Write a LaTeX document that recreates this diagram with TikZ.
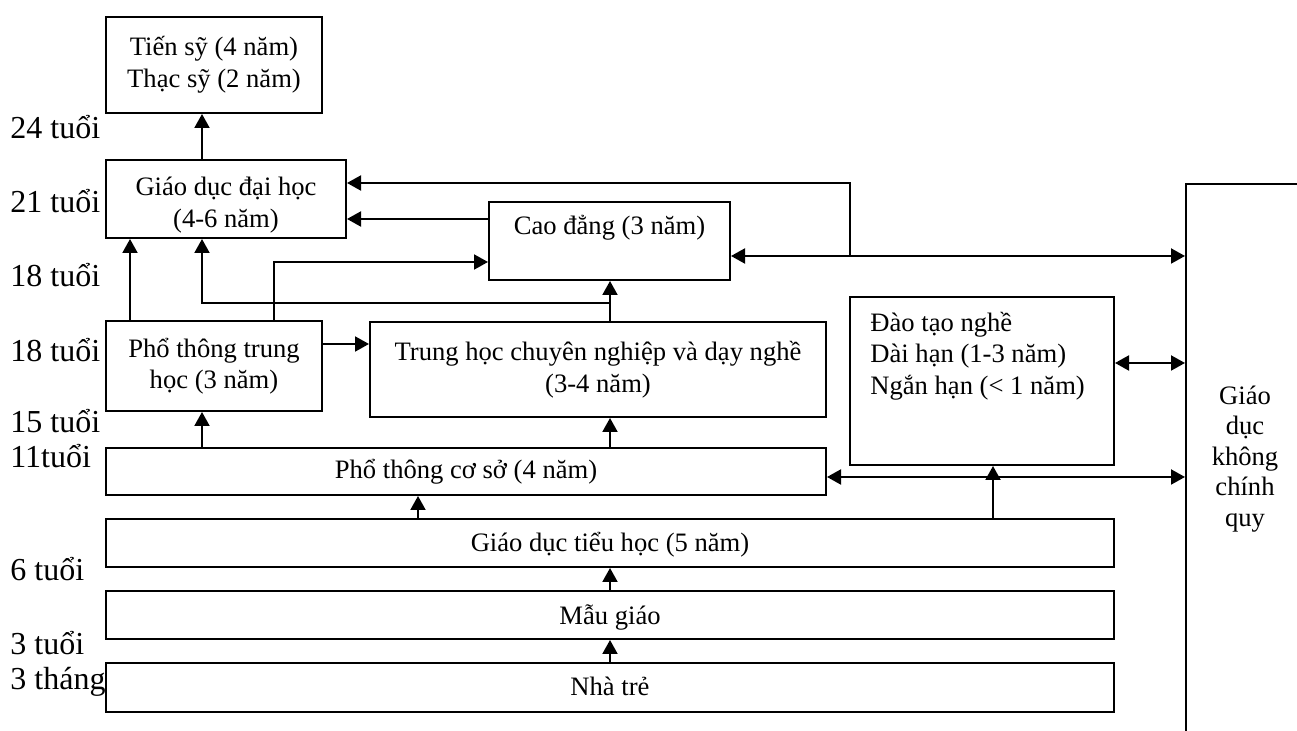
\documentclass[tikz,border=0pt]{standalone}
\usepackage{fontspec}
\setmainfont{Liberation Serif}
\usetikzlibrary{arrows.meta}

\newcommand\boxfont{\fontsize{13.3}{15.8}\selectfont}
\newcommand\agefont{\fontsize{16}{19}\selectfont}

\tikzset{
  hop/.style={draw, line width=1pt, inner sep=0pt, align=center, font=\boxfont},
  band/.style={hop, minimum width=504pt, minimum height=24pt, text height=9pt, text depth=0pt},
  txt/.style={inner sep=0pt, font=\boxfont},
  tuoi/.style={anchor=base west, inner sep=0pt, font=\agefont},
  arr/.style={-{Triangle[length=7pt,width=7.5pt]}, line width=1pt},
  dbl/.style={{Triangle[length=7pt,width=7.5pt]}-{Triangle[length=7pt,width=7.5pt]}, line width=1pt},
}

\begin{document}
\begin{tikzpicture}[x=0.5pt,y=-0.5pt]
      \useasboundingbox (0,0) rectangle (1297,731);
      \clip (0,0) rectangle (1297,731);

      % cac bac hoc
      \node[hop, minimum width=108pt, minimum height=48pt] (tiensy) at (214,65) {Tiến sỹ (4 năm)\\Thạc sỹ (2 năm)};
      \node[hop, minimum width=120pt, minimum height=39pt] (daihoc) at (226,199) {};
      \node[txt, align=center] (daihoctxt) at (226,205) {Giáo dục đại học\\(4-6 năm)};
      \node[hop, minimum width=120.5pt, minimum height=39pt] (caodang) at (609.5,241) {};
      \node[txt] (caodangtxt) at (609.5,228) {Cao đẳng (3 năm)};
      \node[hop, minimum width=132pt, minimum height=84pt] (daotao) at (982,381) {};
      \node[txt, anchor=west, align=left] (daotaotxt) at (870,356) {Đào tạo nghề\\Dài hạn (1-3 năm)\\Ngắn hạn (< 1 năm)};
      \node[hop, minimum width=108pt, minimum height=45pt] (ptth) at (214,366) {Phổ thông trung\\học (3 năm)};
      \node[hop, minimum width=228pt, minimum height=47.5pt] (tchn) at (598,369.5) {Trung học chuyên nghiệp và dạy nghề\\(3-4 năm)};
      \node[band, minimum width=360pt, minimum height=23.5pt, text height=7.5pt] (ptcs) at (466,471.5) {Phổ thông cơ sở (4 năm)};
      \node[band] (tieuhoc) at (610,543) {Giáo dục tiểu học (5 năm)};
      \node[band, text height=10pt] (maugiao) at (610,615) {Mẫu giáo};
      \node[band, minimum height=24.5pt, text height=8.5pt] (nhatre) at (610,687.5) {Nhà trẻ};
      \node[hop, minimum width=107pt, minimum height=308pt] (khongcq) at (1293,492) {};
      \node[txt, align=center, font=\fontsize{13.3}{15.25}\selectfont] (khongcqtxt) at (1245,459) {Giáo\\dục\\không\\chính\\quy};

      % tuoi
      \node[tuoi] (t24) at (10,139) {24 tuổi};
      \node[tuoi] (t21) at (10,213) {21 tuổi};
      \node[tuoi] (t18a) at (10,287) {18 tuổi};
      \node[tuoi] (t18b) at (10,362) {18 tuổi};
      \node[tuoi] (t15) at (10,433) {15 tuổi};
      \node[tuoi] (t11) at (10,468) {11tuổi};
      \node[tuoi] (t6) at (10,581) {6 tuổi};
      \node[tuoi] (t3) at (10,655) {3 tuổi};
      \node[tuoi] (t3m) at (10,690) {3 tháng};

      % cot va hang cho cac duong noi
      \coordinate (colA) at (130,0);
      \coordinate (colB) at (202,0);
      \coordinate (colC) at (274,0);
      \coordinate (colD) at (418,0);
      \coordinate (colE) at (610,0);
      \coordinate (colF) at (850,0);
      \coordinate (colG) at (993,0);
      \coordinate (rowA) at (0,303);
      \coordinate (rowB) at (0,262);
      \coordinate (rowC) at (0,219);
      \coordinate (rowD) at (0,183);
      \coordinate (rowE) at (0,256);
      \coordinate (rowF) at (0,363);
      \coordinate (rowG) at (0,477);
      \coordinate (rowH) at (0,344);

      % len lop
      \draw[arr] (colB |- daihoc.north) -- (colB |- tiensy.south);
      \draw[arr] (colA |- ptth.north) -- (colA |- daihoc.south);
      \draw[arr] (colE |- tchn.north) -- (colE |- caodang.south);
      \draw[arr] (colE |- rowA) -- (colB |- rowA) -- (colB |- daihoc.south);
      \draw[arr] (colC |- ptth.north) -- (colC |- rowB) -- (caodang.west |- rowB);
      \draw[arr] (caodang.west |- rowC) -- (daihoc.east |- rowC);
      \draw[arr] (colF |- rowE) -- (colF |- rowD) -- (daihoc.east |- rowD);
      \draw[arr] (ptth.east |- rowH) -- (tchn.west |- rowH);
      \draw[arr] (colB |- ptcs.north) -- (colB |- ptth.south);
      \draw[arr] (colE |- ptcs.north) -- (colE |- tchn.south);
      \draw[arr] (colD |- tieuhoc.north) -- (colD |- ptcs.south);
      \draw[arr] (colG |- tieuhoc.north) -- (colG |- daotao.south);
      \draw[arr] (colE |- maugiao.north) -- (colE |- tieuhoc.south);
      \draw[arr] (colE |- nhatre.north) -- (colE |- maugiao.south);

      % giao duc khong chinh quy
      \draw[dbl] (caodang.east |- rowE) -- (khongcq.west |- rowE);
      \draw[dbl] (daotao.east |- rowF) -- (khongcq.west |- rowF);
      \draw[dbl] (ptcs.east |- rowG) -- (khongcq.west |- rowG);
\end{tikzpicture}
\end{document}
